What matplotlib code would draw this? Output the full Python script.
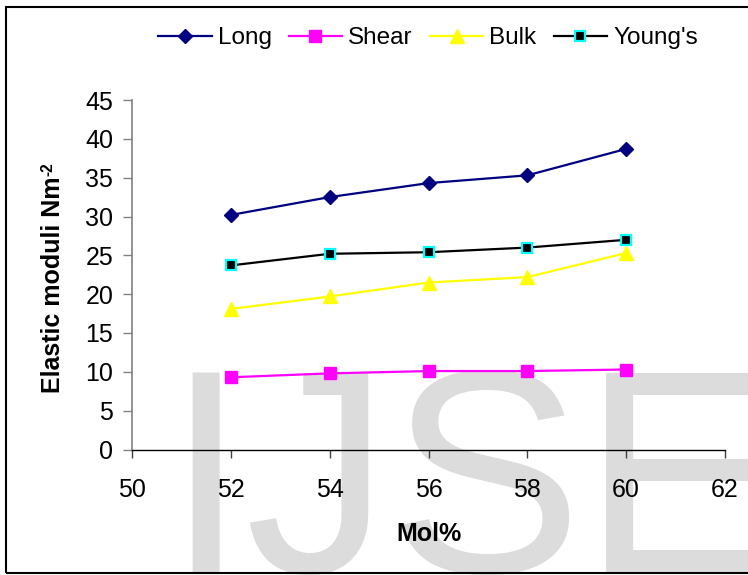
import matplotlib
matplotlib.use("Agg")
import matplotlib.pyplot as plt
from matplotlib.patches import Rectangle

plt.rcParams['font.family'] = ['Liberation Sans', 'DejaVu Sans']

mol = [52, 54, 56, 58, 60]
long_mod = [30.2, 32.5, 34.3, 35.3, 38.7]
shear_mod = [9.3, 9.8, 10.1, 10.1, 10.3]
bulk_mod = [18.1, 19.7, 21.5, 22.2, 25.3]
young_mod = [23.7, 25.2, 25.4, 26.0, 27.0]

xticks = [50, 52, 54, 56, 58, 60, 62]
yticks = [0, 5, 10, 15, 20, 25, 30, 35, 40, 45]

FS = 18

fig = plt.figure(figsize=(7.48, 5.75), dpi=100)

# watermark (behind everything)
fig.text(165/748, 3/575, "IJSE", fontsize=208, color='#dcdcdc',
         family='Liberation Sans', ha='left', va='baseline', zorder=-5)

ax = fig.add_axes([132/748, 1-449.5/575, (725-132)/748, (449.5-100)/575])
ax.set_zorder(1)
ax.patch.set_alpha(0)

ax.plot(mol, long_mod, color='#000080', lw=1.6, marker='D', ms=7,
        label='Long', zorder=3)
ax.plot(mol, shear_mod, color='#FF00FF', lw=1.6, marker='s', ms=8.4,
        label='Shear', zorder=3)
ax.plot(mol, bulk_mod, color='#FFFF00', lw=1.6, marker='^', ms=10,
        label='Bulk', zorder=3)
ax.plot(mol, young_mod, color='black', lw=1.6, marker='s', ms=7.2,
        markerfacecolor='black', markeredgecolor='#00FFFF', mew=1.6,
        label="Young's", zorder=3)

ax.set_xlim(50, 62)
ax.set_ylim(0, 45)
ax.set_xticks(xticks)
ax.set_yticks(yticks)

for s in ['top', 'right']:
    ax.spines[s].set_visible(False)
ax.spines['left'].set_color('#808080')
ax.spines['left'].set_linewidth(1.2)
ax.spines['bottom'].set_color('black')
ax.spines['bottom'].set_linewidth(1.0)

ax.tick_params(axis='x', direction='out', length=5.8, width=1.0,
               color='#404040', labelsize=FS, pad=15)
ax.tick_params(axis='y', direction='out', length=6.5, width=1.0,
               color='#808080', labelsize=FS, pad=7)

ax.set_xlabel('Mol%', fontsize=FS, fontweight='bold', labelpad=14)

# y label with small superscript
ylab = fig.text(53/748, 1-285/575, 'Elastic moduli Nm', rotation=90,
                fontsize=FS, fontweight='bold', ha='center', va='center')
fig.canvas.draw()
bb = ylab.get_window_extent()
fig.text((bb.x0 - 1) / fig.bbox.width, (bb.y1 + 1) / fig.bbox.height, '-2',
         rotation=90, fontsize=FS * 0.62, fontweight='bold',
         ha='left', va='bottom')

leg = fig.legend(loc='center', bbox_to_anchor=(428/748, 1-38/575), ncol=4,
                 frameon=False, fontsize=17.5, handlelength=2.2,
                 handletextpad=0.25, columnspacing=0.7)

fig.patches.append(Rectangle((6/748, 2/575), 1.2, (573-7)/575,
                             transform=fig.transFigure, fill=False,
                             edgecolor='black', lw=1.5, zorder=10))

fig.savefig('out.png', dpi=100)
